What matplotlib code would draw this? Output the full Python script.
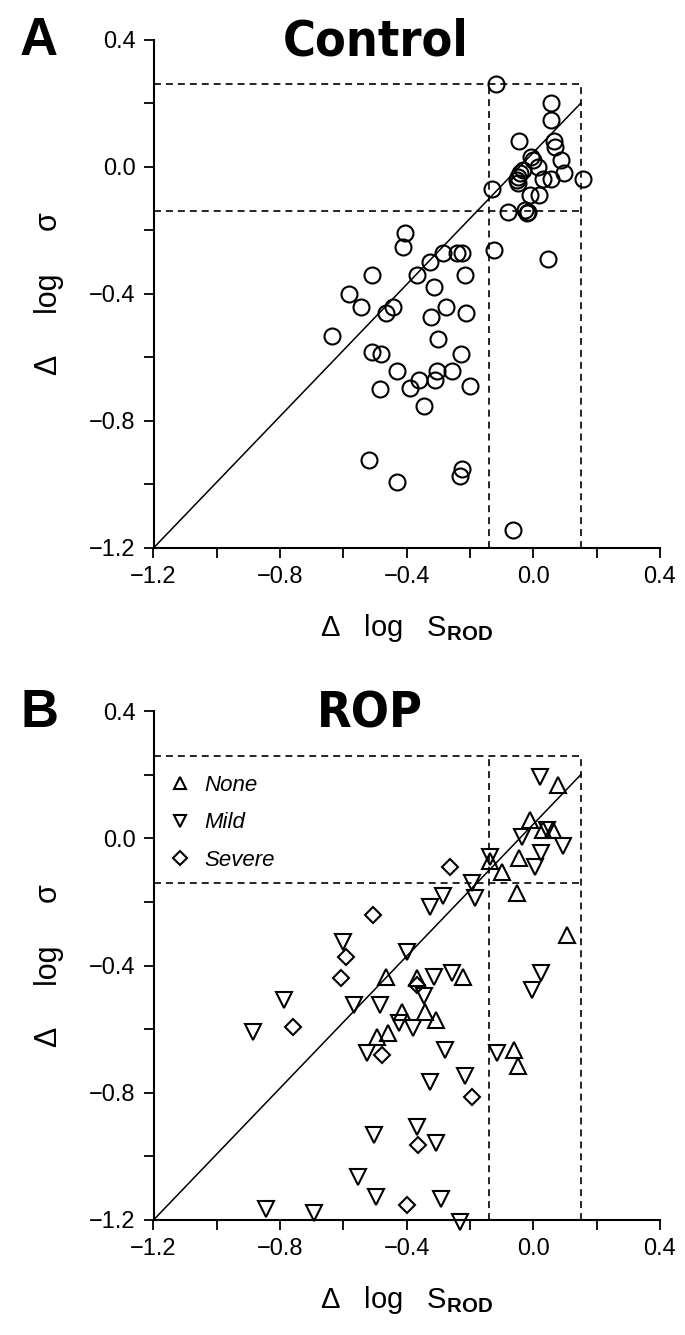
import matplotlib
matplotlib.use("Agg")
import matplotlib.pyplot as plt
from matplotlib.ticker import MultipleLocator, FuncFormatter

plt.rcParams['font.family'] = ['Liberation Sans', 'DejaVu Sans']
plt.rcParams['mathtext.fontset'] = 'custom'
plt.rcParams['mathtext.rm'] = 'Liberation Sans'
plt.rcParams['mathtext.bf'] = 'Liberation Sans:bold'
plt.rcParams['mathtext.it'] = 'Liberation Sans:italic'
plt.rcParams['lines.scale_dashes'] = False

# ---------------- data ----------------
# Panel A: Control
ctrl_x = [-0.119, 0.057, 0.057, -0.046, 0.066, 0.068, 0.086, 0.097, -0.006, -0.001,
          0.015, -0.032, -0.043, -0.050, -0.053, -0.048, 0.029, 0.057, 0.157, -0.011,
          0.018, -0.130, -0.081, -0.027, -0.016, -0.021, 0.047,
          -0.405, -0.413, -0.124, -0.286, -0.242, -0.226, -0.326, -0.509, -0.367,
          -0.217, -0.584, -0.314, -0.544, -0.444, -0.466, -0.277, -0.323, -0.214,
          -0.635, -0.300, -0.509, -0.481, -0.230,
          -0.430, -0.486, -0.390, -0.360, -0.303, -0.311, -0.258, -0.200, -0.345,
          -0.518, -0.432, -0.226, -0.232, -0.064]
ctrl_y = [0.259, 0.199, 0.148, 0.081, 0.081, 0.062, 0.020, -0.021, 0.031, 0.020,
          -0.001, -0.011, -0.021, -0.032, -0.042, -0.053, -0.039, -0.039, -0.040, -0.090,
          -0.090, -0.069, -0.142, -0.137, -0.142, -0.147, -0.291,
          -0.210, -0.252, -0.263, -0.271, -0.271, -0.271, -0.301, -0.341, -0.341,
          -0.341, -0.401, -0.380, -0.441, -0.441, -0.462, -0.441, -0.472, -0.462,
          -0.532, -0.542, -0.582, -0.590, -0.590,
          -0.642, -0.701, -0.697, -0.671, -0.642, -0.671, -0.642, -0.690, -0.752,
          -0.923, -0.993, -0.951, -0.972, -1.143]

# Panel B: ROP, by severity
none_x = [0.078, -0.011, 0.031, 0.062, -0.045, -0.137, -0.098, -0.051, 0.107, -0.465,
          -0.368, -0.221, -0.342, -0.416, -0.308, -0.495, -0.458, -0.062, -0.048]
none_y = [0.168, 0.058, 0.026, 0.026, -0.063, -0.073, -0.105, -0.173, -0.304, -0.435,
          -0.440, -0.435, -0.545, -0.545, -0.571, -0.624, -0.613, -0.665, -0.716]

mild_x = [0.021, 0.044, -0.035, 0.094, 0.024, 0.005, -0.137, -0.195, -0.185, -0.285,
          -0.326, -0.400, -0.313, -0.258, 0.024, -0.004, -0.345, -0.486, -0.568, -0.426,
          -0.379, -0.600, -0.787, -0.887, -0.524, -0.279, -0.326, -0.368, -0.505, -0.309,
          -0.555, -0.498, -0.292, -0.845, -0.692, -0.216, -0.114, -0.232]
mild_y = [0.194, 0.026, 0.005, -0.024, -0.045, -0.089, -0.058, -0.141, -0.188, -0.183,
          -0.215, -0.356, -0.435, -0.424, -0.424, -0.477, -0.496, -0.524, -0.524, -0.580,
          -0.597, -0.325, -0.508, -0.608, -0.676, -0.665, -0.765, -0.907, -0.933, -0.957,
          -1.066, -1.127, -1.135, -1.166, -1.177, -0.747, -0.676, -1.205]

sev_x = [-0.263, -0.507, -0.591, -0.607, -0.368, -0.760, -0.477, -0.195, -0.363, -0.398]
sev_y = [-0.091, -0.241, -0.372, -0.440, -0.461, -0.592, -0.681, -0.812, -0.964, -1.153]

group_labels = ['None', 'Mild', 'Severe']

# reference lines (normal limits) and regression-like line
lim_low_x, lim_high_x = -0.14, 0.15
lim_low_y, lim_high_y = -0.14, 0.26
fit_x = [-1.2, 0.15]
fit_y = [-1.2, 0.20]

axis_min, axis_max = -1.2, 0.4
panel_titles = ['Control', 'ROP']
panel_letters = ['A', 'B']

# ---------------- figure ----------------
W, H = 685, 1335
fig = plt.figure(figsize=(W / 100, H / 100), dpi=100)

left_px, right_px = 153.5, 660
axA = fig.add_axes([left_px / W, 1 - 548 / H, (right_px - left_px) / W, (548 - 39.5) / H])
axB = fig.add_axes([left_px / W, 1 - 1220 / H, (right_px - left_px) / W, (1220 - 711) / H])

dash = dict(color='black', lw=1.2, dashes=(5, 3.6))
fmt = FuncFormatter(lambda v, p: ('%.1f' % v).replace('-', '\u2212'))

for ax in (axA, axB):
    ax.set_xlim(axis_min, axis_max)
    ax.set_ylim(axis_min, axis_max)
    for s in ('top', 'right'):
        ax.spines[s].set_visible(False)
    for s in ('left', 'bottom'):
        ax.spines[s].set_linewidth(1.5)
    ax.xaxis.set_major_locator(MultipleLocator(0.4))
    ax.yaxis.set_major_locator(MultipleLocator(0.4))
    ax.xaxis.set_minor_locator(MultipleLocator(0.2))
    ax.yaxis.set_minor_locator(MultipleLocator(0.2))
    ax.xaxis.set_major_formatter(fmt)
    ax.yaxis.set_major_formatter(fmt)
    ax.tick_params(which='both', direction='out', length=7, width=1.3, labelsize=17, pad=6)
    ax.patch.set_alpha(0)
    # normal-limit box
    ax.plot([axis_min, lim_high_x], [lim_high_y, lim_high_y], **dash)
    ax.plot([axis_min, lim_high_x], [lim_low_y, lim_low_y], **dash)
    ax.plot([lim_low_x, lim_low_x], [axis_min, lim_high_y], **dash)
    ax.plot([lim_high_x, lim_high_x], [axis_min, lim_high_y], **dash)
    ax.plot(fit_x, fit_y, color='black', lw=1.1)
    ax.set_ylabel('Δ     log     σ', fontsize=22, labelpad=18)
    ax.set_xlabel('Δ   log   S$_\\mathbf{ROD}$', fontsize=21, labelpad=17)

mk = dict(linestyle='none', fillstyle='none', color='black', mew=1.5, clip_on=False)
axA.plot(ctrl_x, ctrl_y, marker='o', ms=11.5, **mk)

axB.plot(none_x, none_y, marker='^', ms=11, label=group_labels[0], **mk)
axB.plot(mild_x, mild_y, marker='v', ms=11, label=group_labels[1], **mk)
axB.plot(sev_x, sev_y, marker='D', ms=8.5, label=group_labels[2], **mk)

leg = axB.legend(loc='upper left', bbox_to_anchor=(0.035, 0.875), frameon=False,
                 borderpad=0, borderaxespad=0, handlelength=0.8, handletextpad=0.7,
                 labelspacing=0.75, markerscale=0.8,
                 prop=dict(family='Liberation Sans', style='italic', size=16))

# panel titles and letters
title_kw = dict(ha='center', va='baseline', fontsize=36, fontweight='bold',
                family=['Liberation Sans Narrow', 'DejaVu Sans'], fontstretch='condensed')
fig.text(376 / W, 1 - 55 / H, panel_titles[0], **title_kw)
fig.text(370 / W, 1 - 727 / H, panel_titles[1], **title_kw)
fig.text(20 / W, 1 - 55 / H, panel_letters[0], ha='left', va='baseline',
         fontsize=38, fontweight='bold')
fig.text(20 / W, 1 - 727 / H, panel_letters[1], ha='left', va='baseline',
         fontsize=38, fontweight='bold')

fig.savefig('out.png', dpi=100)
